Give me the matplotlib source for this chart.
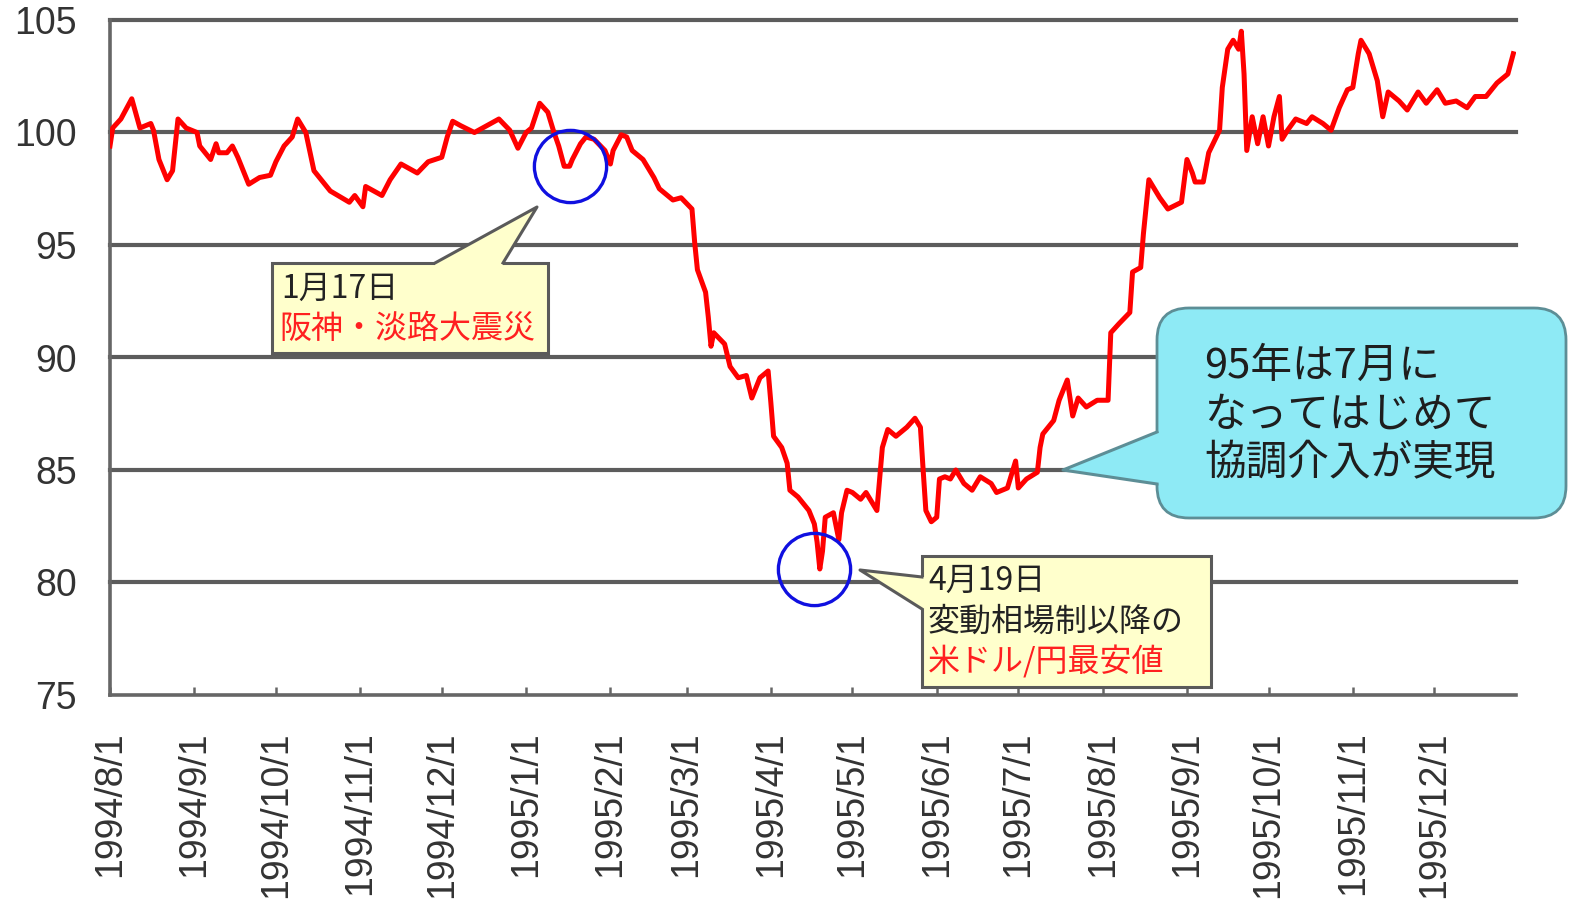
import numpy as np
import pandas as pd
import matplotlib
matplotlib.use("Agg")
import matplotlib.pyplot as plt
import matplotlib.dates as mdates
from matplotlib.patches import Polygon, FancyBboxPatch, Rectangle
from matplotlib.lines import Line2D
from matplotlib.transforms import Affine2D

# USD/JPY
dates_94 = [
    "1994-08-01", "1994-08-02", "1994-08-05", "1994-08-09", "1994-08-12", "1994-08-16",
    "1994-08-17", "1994-08-19", "1994-08-22", "1994-08-24", "1994-08-26", "1994-08-29",
    "1994-09-02", "1994-09-03", "1994-09-07", "1994-09-09", "1994-09-10", "1994-09-13",
    "1994-09-15", "1994-09-17", "1994-09-21", "1994-09-25", "1994-09-29", "1994-10-01",
    "1994-10-04", "1994-10-07", "1994-10-09", "1994-10-12", "1994-10-15", "1994-10-21",
    "1994-10-28", "1994-10-30", "1994-11-02", "1994-11-03", "1994-11-09", "1994-11-12",
    "1994-11-16", "1994-11-22", "1994-11-26", "1994-12-01", "1994-12-03", "1994-12-05",
    "1994-12-08", "1994-12-13", "1994-12-16", "1994-12-22", "1994-12-26", "1994-12-29",
]
rate_94 = [
    99.4, 100.2, 100.6, 101.5, 100.2, 100.4,
    100.1, 98.8, 97.9, 98.3, 100.6, 100.2,
    100.0, 99.4, 98.8, 99.5, 99.1, 99.1,
    99.4, 98.9, 97.7, 98.0, 98.1, 98.7,
    99.4, 99.8, 100.6, 100.0, 98.3, 97.4,
    96.9, 97.2, 96.7, 97.6, 97.2, 97.9,
    98.6, 98.2, 98.7, 98.9, 99.8, 100.5,
    100.3, 100.0, 100.2, 100.6, 100.1, 99.3,
]
dates_95a = [
    "1995-01-01", "1995-01-03", "1995-01-06", "1995-01-09", "1995-01-11", "1995-01-13",
    "1995-01-15", "1995-01-17", "1995-01-18", "1995-01-21", "1995-01-23", "1995-01-26",
    "1995-01-30", "1995-02-01", "1995-02-02", "1995-02-05", "1995-02-07", "1995-02-09",
    "1995-02-13", "1995-02-17", "1995-02-19", "1995-02-24", "1995-02-27", "1995-03-03",
    "1995-03-04", "1995-03-05", "1995-03-08", "1995-03-09", "1995-03-10", "1995-03-11",
    "1995-03-15", "1995-03-17", "1995-03-20", "1995-03-23", "1995-03-25", "1995-03-28",
    "1995-03-31", "1995-04-01", "1995-04-02", "1995-04-05", "1995-04-07", "1995-04-08",
    "1995-04-11", "1995-04-15", "1995-04-17", "1995-04-18", "1995-04-19", "1995-04-20",
    "1995-04-21", "1995-04-24", "1995-04-26", "1995-04-27", "1995-04-29", "1995-05-01",
    "1995-05-04", "1995-05-06", "1995-05-09", "1995-05-10", "1995-05-11", "1995-05-12",
    "1995-05-14", "1995-05-17", "1995-05-21", "1995-05-24", "1995-05-26", "1995-05-27",
    "1995-05-28", "1995-05-30", "1995-06-01", "1995-06-02", "1995-06-04", "1995-06-06",
    "1995-06-08", "1995-06-11", "1995-06-14", "1995-06-17", "1995-06-21", "1995-06-23",
    "1995-06-27", "1995-06-30",
]
rate_95a = [
    100.0, 100.2, 101.3, 100.9, 100.1, 99.4,
    98.5, 98.5, 98.8, 99.5, 99.8, 99.7,
    99.2, 98.6, 99.2, 99.9, 99.8, 99.2,
    98.8, 98.0, 97.5, 97.0, 97.1, 96.6,
    95.1, 93.9, 92.9, 91.8, 90.5, 91.1,
    90.6, 89.6, 89.1, 89.2, 88.2, 89.1,
    89.4, 88.0, 86.5, 86.0, 85.3, 84.1,
    83.8, 83.2, 82.6, 81.8, 80.6, 81.4,
    82.9, 83.1, 81.9, 83.1, 84.1, 84.0,
    83.7, 84.0, 83.4, 83.2, 84.6, 86.0,
    86.8, 86.5, 86.9, 87.3, 86.9, 85.0,
    83.2, 82.7, 82.9, 84.6, 84.7, 84.6,
    85.0, 84.4, 84.1, 84.7, 84.4, 84.0,
    84.2, 85.4,
]
dates_95b = [
    "1995-07-01", "1995-07-04", "1995-07-08", "1995-07-09", "1995-07-10", "1995-07-14",
    "1995-07-16", "1995-07-19", "1995-07-21", "1995-07-23", "1995-07-26", "1995-07-30",
    "1995-08-03", "1995-08-04", "1995-08-07", "1995-08-11", "1995-08-12", "1995-08-15",
    "1995-08-16", "1995-08-18", "1995-08-22", "1995-08-25", "1995-08-30", "1995-09-01",
    "1995-09-03", "1995-09-04", "1995-09-07", "1995-09-09", "1995-09-13", "1995-09-14",
    "1995-09-16", "1995-09-18", "1995-09-20", "1995-09-21", "1995-09-22", "1995-09-23",
    "1995-09-25", "1995-09-27", "1995-09-29", "1995-10-01", "1995-10-03", "1995-10-05",
    "1995-10-06", "1995-10-08", "1995-10-11", "1995-10-15", "1995-10-17", "1995-10-21",
    "1995-10-24", "1995-10-27", "1995-10-30", "1995-11-01", "1995-11-03", "1995-11-04",
    "1995-11-07", "1995-11-10", "1995-11-12", "1995-11-14", "1995-11-18", "1995-11-21",
    "1995-11-25", "1995-11-28", "1995-12-02", "1995-12-05", "1995-12-09", "1995-12-13",
    "1995-12-16", "1995-12-20", "1995-12-24", "1995-12-28", "1995-12-30",
]
rate_95b = [
    84.2, 84.6, 84.9, 86.0, 86.6, 87.2,
    88.1, 89.0, 87.4, 88.2, 87.8, 88.1,
    88.1, 91.1, 91.5, 92.0, 93.8, 94.0,
    95.5, 97.9, 97.1, 96.6, 96.9, 98.8,
    98.2, 97.8, 97.8, 99.1, 100.1, 102.0,
    103.7, 104.1, 103.7, 104.5, 102.6, 99.2,
    100.7, 99.5, 100.7, 99.4, 100.7, 101.6,
    99.7, 100.1, 100.6, 100.4, 100.7, 100.4,
    100.1, 101.1, 101.9, 102.0, 103.5, 104.1,
    103.5, 102.3, 100.7, 101.8, 101.4, 101.0,
    101.8, 101.3, 101.9, 101.3, 101.4, 101.1,
    101.6, 101.6, 102.2, 102.6, 103.5,
]

# circled events
event_dates = ["1995-01-17", "1995-04-17"]
event_rates = [98.5, 80.6]

y_ticks = [75, 80, 85, 90, 95, 100, 105]

W, H = 1571, 915
fig = plt.figure(figsize=(W / 100, H / 100), dpi=100)
ax = fig.add_axes([110 / W, 1 - 695 / H, (1516 - 110) / W, (695 - 20) / H])

dates = pd.to_datetime(dates_94 + dates_95a + dates_95b)
rates = rate_94 + rate_95a + rate_95b

for yv in y_ticks[1:]:
    ax.axhline(yv, color="#5c5c5c", lw=3, zorder=1, clip_on=False)

ax.plot(dates, rates, color="#ff0000", lw=3.6, zorder=3, solid_joinstyle="round")
ax.plot(pd.to_datetime(event_dates), event_rates, "o", ms=52, mfc="none",
        mec="#1010e0", mew=2.4, zorder=4, clip_on=False)

ax.set_xlim(pd.Timestamp("1994-08-01"), pd.Timestamp("1995-12-31"))
ax.set_ylim(75, 105)
ax.set_yticks(y_ticks)

ax.xaxis.set_major_locator(mdates.MonthLocator())
ax.xaxis.set_major_formatter(plt.FuncFormatter(
    lambda v, pos: (lambda d: f"{d.year}/{d.month}/{d.day}")(mdates.num2date(v))))

for side in ["top", "right"]:
    ax.spines[side].set_visible(False)
for side in ["left", "bottom"]:
    ax.spines[side].set_color("#666666")
    ax.spines[side].set_linewidth(2.6)

ax.tick_params(axis="x", direction="in", length=6, width=1.8, color="#666666",
               pad=26, labelsize=27, labelcolor="#333333", labelrotation=90)
ax.tick_params(axis="y", length=0, pad=24, labelsize=27, labelcolor="#333333")
for lab in ax.get_xticklabels() + ax.get_yticklabels():
    lab.set_fontfamily("Liberation Sans")
for lab in ax.get_xticklabels():
    lab.set_verticalalignment("top")

# callouts in pixel coords (origin top-left)
T = Affine2D().scale(1 / W, -1 / H).translate(0, 1) + fig.transFigure
jp = ["Noto Sans CJK JP", "DejaVu Sans"]


def callout(x0, y0, x1, y1, base1, tip, base2, inward, fc, ec, round_r=0):
    if round_r:
        box = FancyBboxPatch((x0, y0), x1 - x0, y1 - y0,
                             boxstyle=f"round,pad=0,rounding_size={round_r}",
                             fc=fc, ec=ec, lw=2, transform=T, zorder=5)
    else:
        box = Rectangle((x0, y0), x1 - x0, y1 - y0, fc=fc, ec=ec, lw=2.2,
                        transform=T, zorder=5)
    fig.add_artist(box)
    dx, dy = inward
    cover = [(base1[0] + dx, base1[1] + dy), base1, tip, base2,
             (base2[0] + dx, base2[1] + dy)]
    fig.add_artist(Polygon(cover, closed=True, fc=fc, ec="none",
                           transform=T, zorder=6))
    fig.add_artist(Line2D([base1[0], tip[0], base2[0]], [base1[1], tip[1], base2[1]],
                          color=ec, lw=2.2, transform=T, zorder=7))


# 1月17日
callout(272, 263, 548, 353, (435, 263), (537, 207), (503, 263), (0, 4),
        "#ffffcc", "#5a5a5a")
fig.text(281, 289, "1月17日", transform=T, fontsize=23, family=jp,
         color="#222222", va="center", zorder=8)
fig.text(279, 329, "阪神・淡路大震災", transform=T, fontsize=23, family=jp,
         color="#ff2020", va="center", zorder=8)

# 4月19日
callout(922, 556, 1211, 687, (922, 577), (860, 570), (922, 609), (4, 0),
        "#ffffcc", "#5a5a5a")
fig.text(928, 581, "4月19日", transform=T, fontsize=23, family=jp,
         color="#222222", va="center", zorder=8)
fig.text(928, 622, "変動相場制以降の", transform=T, fontsize=23, family=jp,
         color="#222222", va="center", zorder=8)
fig.text(928, 662, "米ドル/円最安値", transform=T, fontsize=23, family=jp,
         color="#ff2020", va="center", zorder=8)

# 95年
callout(1157, 308, 1566, 518, (1157, 432), (1063, 470), (1157, 484), (4, 0),
        "#8eeaf5", "#5d8e96", round_r=32)
for i, s in enumerate(["95年は7月に", "なってはじめて", "協調介入が実現"]):
    fig.text(1204, 366 + 49 * i, s, transform=T, fontsize=30, family=jp,
             color="#1e1e1e", va="center", zorder=8)

fig.savefig("out.png", dpi=100)
